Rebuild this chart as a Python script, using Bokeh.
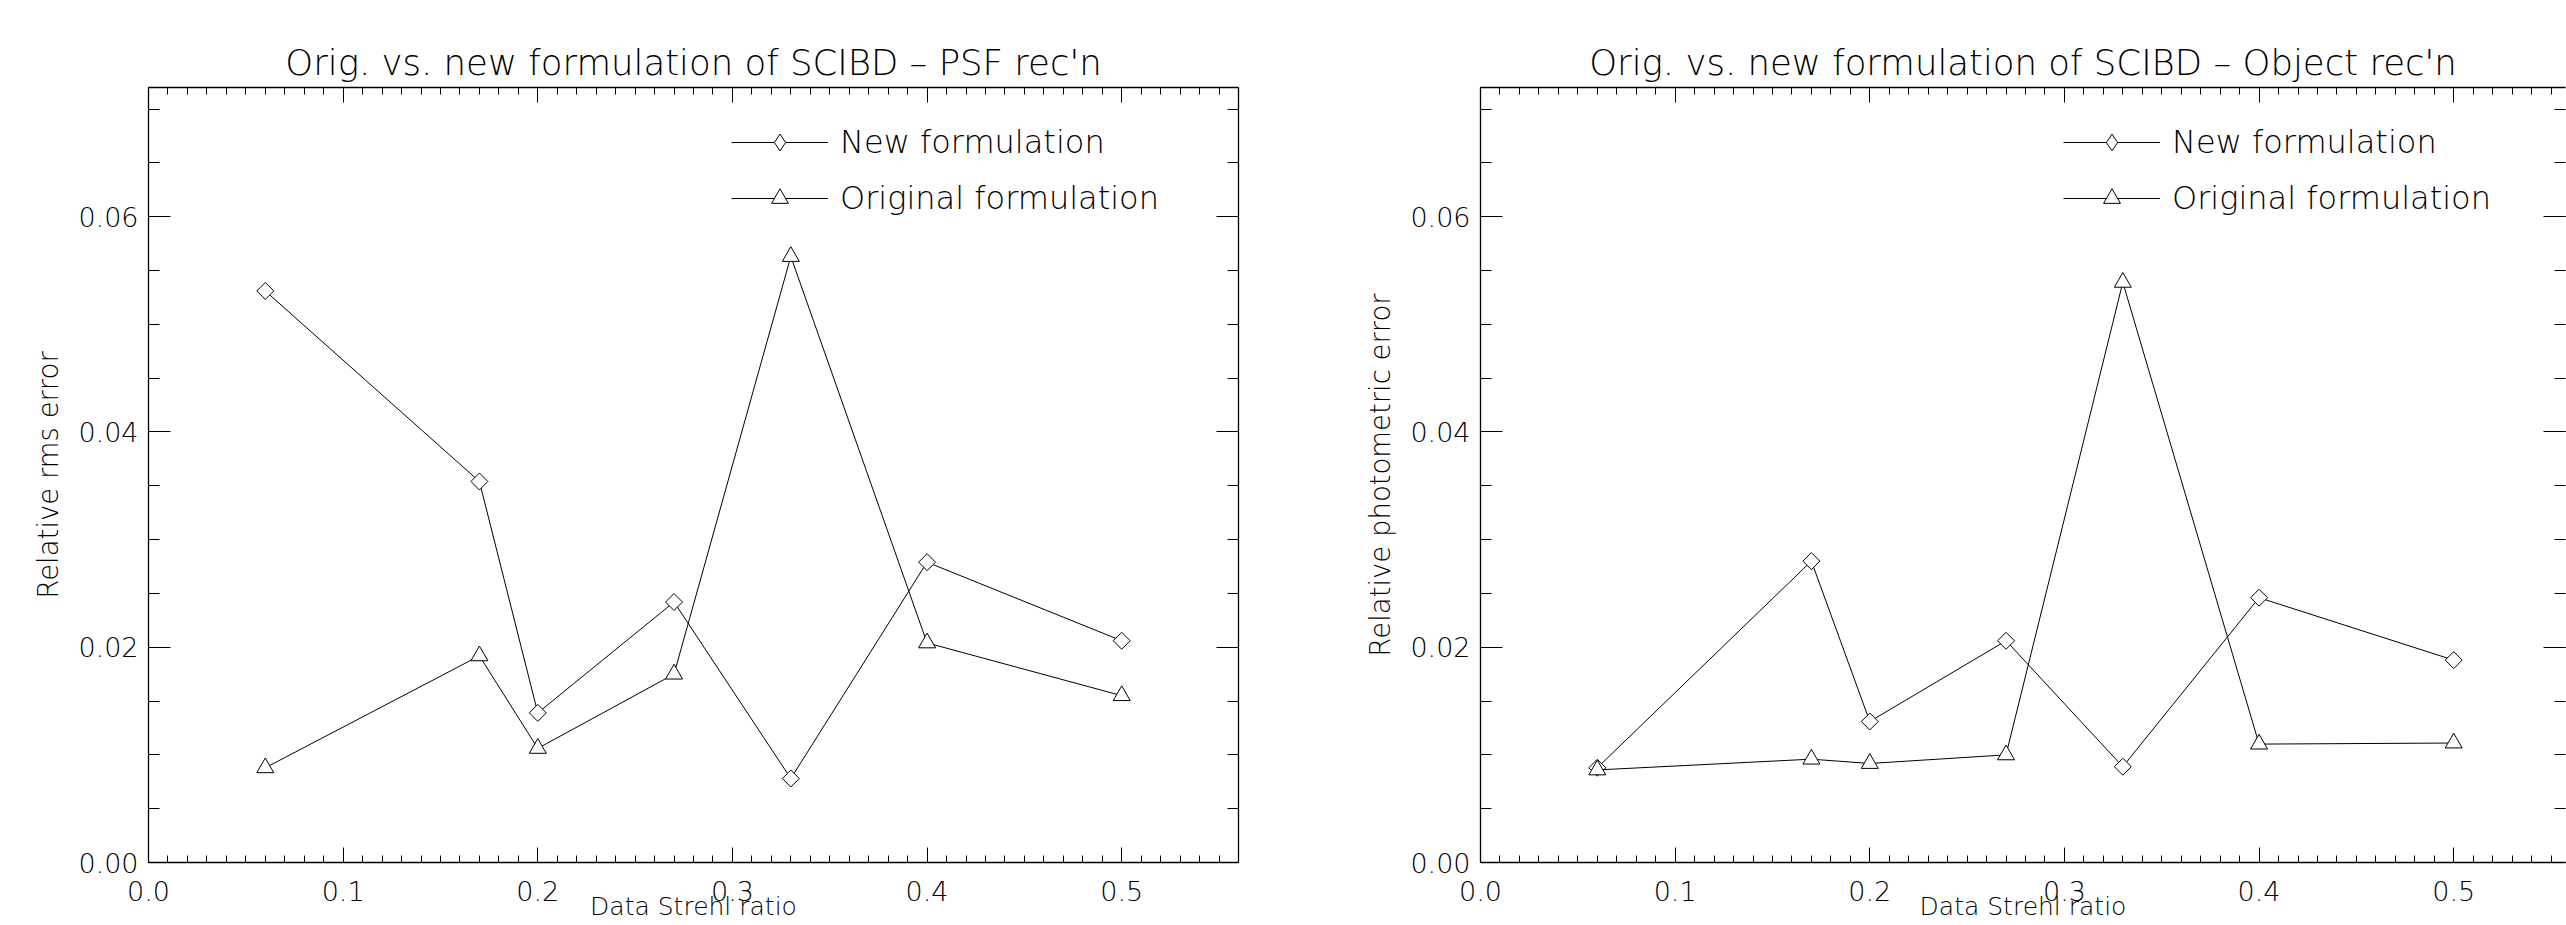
import numpy as np
from bokeh.plotting import figure
from bokeh.models import (LinearAxis, Range1d, FixedTicker, Legend, LegendItem,
                          CustomJSTickFormatter, PrintfTickFormatter)
from bokeh.layouts import row
from bokeh.embed import file_html
from bokeh.resources import INLINE

# ---- data -----------------------------------------------------------------
strehl = [0.06, 0.17, 0.20, 0.27, 0.33, 0.40, 0.50]

psf_new = [0.0531, 0.0354, 0.0139, 0.0242, 0.0078, 0.0279, 0.0206]
psf_orig = [0.0088, 0.0192, 0.0106, 0.0175, 0.0563, 0.0204, 0.0155]

obj_new = [0.0088, 0.0280, 0.0131, 0.0206, 0.0089, 0.0246, 0.0188]
obj_orig = [0.0086, 0.0096, 0.0092, 0.0100, 0.0539, 0.0110, 0.0111]

x_major = [0.0, 0.1, 0.2, 0.3, 0.4, 0.5]
y_major = [0.00, 0.02, 0.04, 0.06]

series_labels = ["New formulation", "Original formulation"]
titles = ["Orig. vs. new formulation of SCIBD \u2013 PSF rec'n",
          "Orig. vs. new formulation of SCIBD \u2013 Object rec'n"]
y_labels = ["Relative rms error", "Relative photometric error"]
x_label = "Data Strehl ratio"

# ---- style ------------------------------------------------------------------
FONT = "DejaVu Sans Light, DejaVu Sans"
x_minor = [round(v, 3) for v in np.arange(0.0, 0.575, 0.01)]
y_minor = [round(v, 4) for v in np.arange(0.0, 0.0725, 0.005)]

TOTAL_W = 2566
H = 925
BL = 148          # left border (frame starts at x=148)
FRAME_W = 1090
LEFT_W = 1332
Y_MAX = 0.072


def style_axis(ax, is_x, labels=True):
    ax.axis_line_color = "black"
    ax.axis_line_width = 1.3
    ax.major_tick_line_color = "black"
    ax.minor_tick_line_color = "black"
    ax.major_tick_line_width = 1
    ax.minor_tick_line_width = 1
    ax.major_tick_out = 0
    ax.minor_tick_out = 0
    if is_x:
        ax.ticker = FixedTicker(ticks=x_major, minor_ticks=x_minor)
        ax.major_tick_in = 15
        ax.minor_tick_in = 7
    else:
        ax.ticker = FixedTicker(ticks=y_major, minor_ticks=y_minor)
        ax.major_tick_in = 22
        ax.minor_tick_in = 11
    ax.major_label_text_font = FONT
    ax.major_label_text_font_size = "27px"
    ax.major_label_text_color = "black"
    ax.axis_label_text_font = FONT
    ax.axis_label_text_font_style = "normal"
    ax.axis_label_text_color = "black"
    if not labels:
        ax.formatter = CustomJSTickFormatter(code="return ''")
        ax.major_label_standoff = 0


def make_panel(title, ylabel, new_vals, orig_vals, width, x_end, border_right,
               show_right_line=True):
    p = figure(width=width, height=H, x_range=Range1d(0, x_end),
               y_range=Range1d(0, Y_MAX), output_backend="svg",
               toolbar_location=None, min_border_left=BL,
               min_border_right=border_right, min_border_top=87,
               min_border_bottom=63)
    p.background_fill_color = "white"
    p.border_fill_color = "white"
    p.outline_line_color = None
    p.xgrid.visible = False
    p.ygrid.visible = False

    p.title.text = title
    p.title.align = "center"
    p.title.text_font = FONT
    p.title.text_font_size = "35.5px"
    p.title.text_font_style = "normal"
    p.title.text_color = "black"
    p.title.standoff = 10

    xb = p.xaxis[0]
    style_axis(xb, True)
    xb.formatter = PrintfTickFormatter(format="%.1f")
    xb.axis_label = x_label
    xb.axis_label_text_font_size = "25px"
    xb.major_label_standoff = 18
    xb.axis_label_standoff = -12

    yl = p.yaxis[0]
    style_axis(yl, False)
    yl.formatter = PrintfTickFormatter(format="%.2f")
    yl.axis_label = ylabel
    yl.axis_label_text_font_size = "27.5px"
    yl.major_label_standoff = 10
    yl.axis_label_standoff = 11

    xt = LinearAxis()
    style_axis(xt, True, labels=False)
    p.add_layout(xt, "above")
    yr = LinearAxis()
    style_axis(yr, False, labels=False)
    if not show_right_line:
        yr.axis_line_color = None
    p.add_layout(yr, "right")

    ln_new = p.line(strehl, new_vals, line_color="black", line_width=1)
    p.scatter(strehl, new_vals, marker="square", angle=np.pi / 4,
              size=12, fill_color="white", line_color="black", line_width=1)
    ln_org = p.line(strehl, orig_vals, line_color="black", line_width=1)
    pt_org = p.scatter(strehl, orig_vals, marker="triangle", size=17,
                       fill_color="white", line_color="black", line_width=1)
    # key glyph for the legend only (drawn with zero size in the plot)
    key_new = p.scatter(strehl[:1], new_vals[:1], marker="diamond", size=0,
                        fill_color="white", line_color="black", line_width=1)

    legend = Legend(items=[
        LegendItem(label=series_labels[0], renderers=[ln_new, key_new]),
        LegendItem(label=series_labels[1], renderers=[ln_org, pt_org]),
    ], location=(583, 643))
    legend.background_fill_alpha = 0
    legend.border_line_color = None
    legend.padding = 0
    legend.margin = 0
    legend.spacing = 14
    legend.glyph_width = 97
    legend.glyph_height = 42
    legend.label_height = 42
    legend.label_standoff = 12
    legend.label_text_font = FONT
    legend.label_text_font_size = "32px"
    legend.label_text_color = "black"
    p.add_layout(legend)
    return p


right_w = TOTAL_W - LEFT_W
right_frame_w = right_w - BL - 1
p1 = make_panel(titles[0], y_labels[0], psf_new, psf_orig, LEFT_W, 0.56,
                LEFT_W - BL - FRAME_W)
p2 = make_panel(titles[1], y_labels[1], obj_new, obj_orig, right_w,
                0.56 * right_frame_w / FRAME_W, 1, show_right_line=False)

layout = row(p1, p2)
open("out.html", "w").write(file_html(layout, INLINE))
